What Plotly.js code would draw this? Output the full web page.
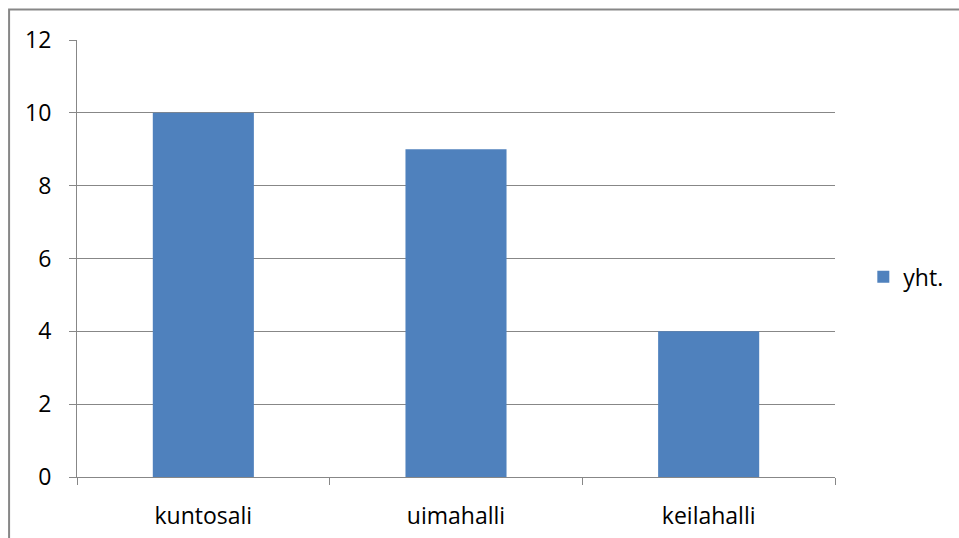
<!DOCTYPE html>
<html>
<head>
<meta charset="utf-8">
<script src="https://cdn.plot.ly/plotly-3.0.1.min.js"></script>
<style>
  html, body { margin: 0; padding: 0; background: #fff; }
  #chart { width: 959px; height: 538px; }
</style>
</head>
<body>
<div id="chart"></div>
<script>
// Facility counts
const categories = ["kuntosali", "uimahalli", "keilahalli"];
const values = [10, 9, 4];
const seriesName = "yht.";
const yTicks = [0, 2, 4, 6, 8, 10, 12];

const grey = "#878787";
const font = { family: "Open Sans, Liberation Sans, sans-serif", size: 23, color: "#000" };

const trace = {
  type: "bar",
  x: categories,
  y: values,
  name: seriesName,
  marker: { color: "#4F81BD" },
  width: 0.4,
  hoverinfo: "x+y"
};

const layout = {
  width: 959,
  height: 538,
  margin: { l: 77, r: 123, t: 40, b: 61 },
  paper_bgcolor: "#fff",
  plot_bgcolor: "#fff",
  font: font,
  showlegend: true,
  legend: {
    x: 1.036, y: 0.458, xanchor: "left", yanchor: "middle",
    font: font, bgcolor: "rgba(0,0,0,0)", itemwidth: 30
  },
  xaxis: {
    type: "category",
    showgrid: false,
    showline: true,
    linecolor: grey,
    linewidth: 1,
    ticks: "outside",
    tickson: "boundaries",
    ticklen: 7,
    tickcolor: grey,
    tickfont: font,
    ticklabelstandoff: 18,
    zeroline: false
  },
  yaxis: {
    range: [0, 12],
    tickvals: yTicks,
    ticktext: yTicks.map(String),
    showgrid: true,
    gridcolor: grey,
    gridwidth: 1,
    showline: true,
    linecolor: grey,
    linewidth: 1,
    ticks: "outside",
    ticklen: 7,
    tickcolor: grey,
    tickfont: font,
    ticklabelstandoff: 13,
    zeroline: false
  },
  shapes: [
    // chart frame (top and left edges visible)
    {
      type: "rect", xref: "paper", yref: "paper",
      x0: (9 - 77) / 759, x1: 1.3,
      y0: -0.2, y1: 1 + (40 - 9.5) / 437,
      line: { color: grey, width: 2 },
      fillcolor: "rgba(0,0,0,0)",
      layer: "below"
    }
  ]
};

Plotly.newPlot("chart", [trace], layout, { displayModeBar: false, staticPlot: true });
</script>
</body>
</html>
